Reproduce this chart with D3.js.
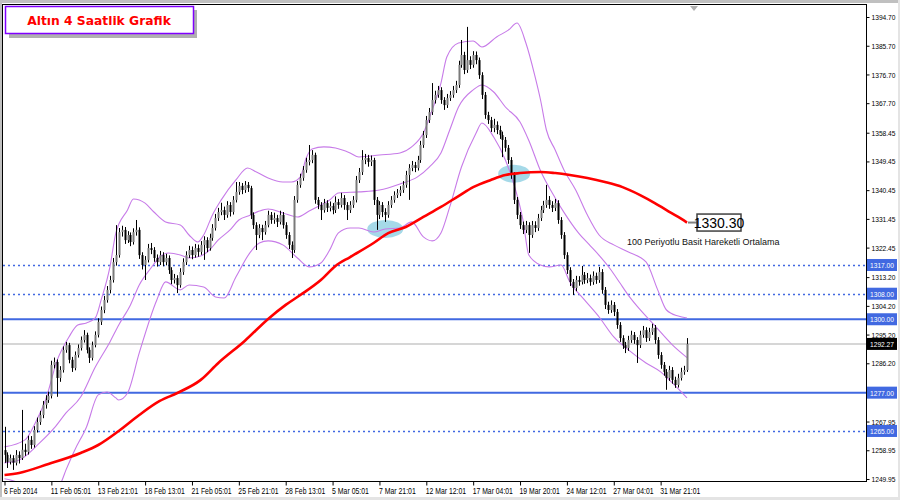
<!DOCTYPE html>
<html><head><meta charset="utf-8">
<script src="https://cdn.jsdelivr.net/npm/d3@7"></script>
<style>body{margin:0;background:#fff}svg{display:block}</style>
</head><body>
<svg id="c" width="900" height="500"></svg>
<script>
// ---------- DATA ----------
const opens=[1259.0,1257.5,1255.3,1256.5,1255.0,1257.5,1256.5,1259.1,1258.4,1262.2,
1260.6,1265.3,1267.8,1270.0,1273.2,1274.7,1276.0,1285.7,1286.6,1281.6,
1284.1,1290.4,1291.9,1287.3,1284.7,1288.8,1291.0,1293.5,1295.1,1290.4,
1287.9,1291.9,1295.1,1299.2,1302.9,1306.0,1309.2,1312.3,1317.9,1320.1,
1327.3,1328.0,1324.8,1326.4,1324.2,1327.3,1328.0,1320.1,1317.0,1318.6,
1322.3,1321.7,1319.2,1317.9,1320.1,1317.9,1319.2,1315.4,1312.3,1312.9,
1310.7,1314.8,1317.9,1320.1,1321.7,1320.1,1322.3,1321.1,1323.3,1324.8,
1322.3,1325.5,1328.6,1331.7,1333.6,1334.2,1332.7,1335.8,1333.6,1337.4,
1339.9,1341.8,1340.5,1342.1,1341.1,1332.7,1329.5,1326.4,1328.6,1327.3,
1329.5,1332.7,1331.1,1331.7,1330.5,1332.7,1329.5,1326.4,1323.3,1321.7,
1337.4,1342.1,1344.3,1346.8,1349.3,1349.9,1351.5,1337.4,1335.8,1334.2,
1336.4,1334.9,1335.5,1334.2,1336.7,1335.8,1338.0,1335.8,1334.2,1335.8,
1337.4,1343.6,1346.1,1349.9,1350.5,1349.3,1349.9,1337.4,1332.7,1335.8,
1333.6,1332.7,1335.8,1337.4,1338.9,1339.6,1340.5,1342.1,1345.2,1347.4,
1348.3,1347.4,1349.9,1354.6,1357.7,1362.4,1364.9,1368.7,1370.3,1371.8,
1368.7,1367.1,1369.3,1370.3,1371.8,1373.4,1379.7,1382.8,1378.1,1381.2,
1379.7,1382.8,1381.2,1376.5,1370.3,1364.0,1362.4,1359.9,1360.9,1359.3,
1357.7,1356.2,1353.7,1349.9,1345.2,1337.4,1332.7,1329.5,1328.0,1329.5,
1326.4,1329.5,1328.6,1331.7,1334.2,1335.8,1337.4,1335.8,1334.9,1336.4,
1331.1,1326.4,1320.1,1315.4,1311.7,1309.8,1312.3,1311.7,1313.9,1312.3,
1312.9,1311.7,1313.6,1312.3,1314.8,1309.2,1304.5,1302.9,1304.5,1302.3,
1298.2,1294.1,1291.9,1291.0,1293.5,1295.1,1293.5,1291.9,1295.1,1296.6,
1294.1,1296.0,1297.3,1293.5,1288.8,1285.7,1283.5,1281.6,1284.1,1281.0,
1279.4,1281.6,1283.5,1284.1];
const highs=[1266.3,1258.3,1257.6,1257.4,1259.0,1258.6,1271.6,1261.0,1263.5,1263.4,
1266.5,1269.2,1271.3,1274.4,1276.2,1277.3,1287.0,1288.0,1287.4,1285.3,
1291.5,1292.9,1292.6,1288.2,1289.9,1292.1,1294.6,1296.6,1295.8,1291.2,
1293.0,1296.2,1300.3,1304.0,1307.3,1310.4,1313.6,1319.2,1329.5,1328.6,
1329.3,1328.9,1327.6,1327.2,1328.5,1331.1,1328.8,1321.0,1319.8,1323.6,
1323.9,1322.6,1320.3,1321.4,1321.0,1320.5,1320.0,1316.3,1314.2,1313.8,
1316.0,1319.1,1321.3,1323.0,1322.8,1323.6,1323.4,1324.5,1326.0,1325.7,
1326.8,1329.8,1333.0,1334.9,1336.5,1335.3,1337.0,1336.7,1338.6,1343.0,
1343.0,1342.7,1343.3,1343.0,1341.8,1333.5,1330.4,1329.8,1329.6,1330.8,
1334.0,1333.6,1333.4,1332.7,1334.0,1333.6,1330.4,1327.3,1324.4,1338.6,
1343.3,1345.6,1348.0,1350.6,1354.6,1353.0,1352.2,1338.3,1336.7,1337.7,
1337.3,1336.9,1336.4,1338.5,1337.7,1339.6,1338.9,1336.7,1337.0,1338.6,
1344.9,1347.4,1353.0,1351.8,1351.5,1351.3,1350.6,1338.3,1337.0,1336.7,
1334.8,1337.0,1338.6,1340.1,1340.8,1341.7,1343.3,1346.5,1348.6,1349.6,
1349.3,1351.2,1355.9,1359.0,1363.7,1366.2,1374.0,1371.6,1373.1,1372.7,
1369.6,1370.6,1371.5,1373.1,1374.7,1381.0,1387.5,1383.8,1391.6,1382.4,
1384.0,1383.9,1382.0,1377.4,1371.2,1365.0,1363.4,1362.8,1362.0,1360.6,
1358.8,1357.1,1354.6,1350.8,1346.1,1338.3,1333.6,1330.6,1330.8,1330.4,
1330.8,1330.7,1333.0,1335.5,1337.1,1342.1,1338.6,1337.0,1337.7,1337.3,
1332.0,1327.3,1321.0,1316.3,1312.6,1313.6,1313.5,1316.7,1314.8,1314.5,
1314.0,1315.0,1314.6,1316.4,1315.7,1310.1,1305.5,1305.9,1305.4,1303.2,
1299.1,1295.0,1292.9,1294.8,1296.4,1296.0,1294.4,1296.4,1297.9,1297.5,
1297.3,1298.6,1298.2,1294.4,1289.7,1286.6,1284.4,1285.4,1285.0,1282.0,
1282.9,1284.8,1285.4,1294.1];
const lows=[1255.0,1253.4,1254.5,1252.8,1254.2,1254.8,1255.9,1257.2,1257.6,1259.4,
1259.8,1264.5,1266.9,1269.0,1272.0,1273.8,1275.2,1284.6,1275.7,1280.4,
1283.3,1289.5,1286.2,1283.5,1284.0,1288.0,1290.2,1292.7,1289.3,1286.3,
1287.1,1291.2,1294.3,1298.2,1301.9,1305.2,1308.1,1311.5,1316.8,1319.3,
1325.9,1323.6,1323.9,1322.9,1323.4,1326.2,1318.9,1315.6,1312.3,1317.8,
1320.4,1318.0,1316.5,1317.0,1316.6,1316.9,1314.2,1311.0,1311.2,1308.2,
1309.9,1313.9,1317.0,1319.2,1318.8,1319.3,1319.6,1320.2,1318.6,1321.0,
1321.5,1324.6,1327.8,1330.8,1332.6,1331.1,1331.8,1332.2,1332.8,1336.6,
1339.0,1339.2,1339.6,1339.9,1331.4,1328.3,1321.7,1325.4,1324.8,1326.5,
1328.8,1329.9,1329.9,1328.9,1329.7,1328.4,1325.2,1322.0,1319.2,1320.8,
1336.5,1341.2,1343.4,1345.9,1348.2,1348.9,1336.2,1334.5,1331.1,1333.4,
1333.6,1333.8,1332.9,1333.3,1334.6,1335.0,1334.3,1331.1,1333.3,1334.9,
1336.6,1342.7,1345.2,1348.6,1347.8,1348.0,1335.8,1328.0,1331.4,1332.0,
1330.5,1331.8,1334.9,1336.5,1338.0,1338.6,1339.6,1341.2,1337.4,1346.4,
1346.1,1346.6,1349.0,1353.7,1356.8,1361.5,1364.0,1367.6,1369.4,1367.5,
1365.6,1366.2,1368.4,1369.4,1370.9,1372.5,1378.8,1376.8,1377.2,1378.4,
1378.8,1379.9,1375.3,1369.0,1362.8,1361.2,1358.7,1358.6,1358.0,1356.5,
1350.8,1352.5,1348.7,1344.0,1336.1,1331.4,1328.3,1326.7,1327.0,1320.8,
1325.5,1327.3,1327.7,1330.8,1333.3,1334.9,1334.6,1333.6,1333.9,1329.9,
1325.2,1318.9,1314.2,1310.4,1307.6,1308.8,1310.5,1310.9,1311.1,1311.3,
1310.5,1310.8,1311.1,1311.4,1308.0,1303.2,1301.7,1302.0,1301.0,1297.0,
1292.9,1290.7,1289.4,1290.1,1292.6,1292.3,1286.3,1291.0,1294.2,1292.9,
1293.2,1295.1,1292.3,1287.6,1284.5,1282.3,1277.9,1280.7,1279.8,1278.5,
1278.6,1280.8,1282.6,1283.5];
const closes=[1257.5,1255.3,1256.5,1255.0,1257.5,1256.5,1259.1,1258.4,1262.2,1260.6,
1265.3,1267.8,1270.0,1273.2,1274.7,1276.0,1285.7,1286.6,1281.6,1284.1,
1290.4,1291.9,1287.3,1284.7,1288.8,1291.0,1293.5,1295.1,1290.4,1287.9,
1291.9,1295.1,1299.2,1302.9,1306.0,1309.2,1312.3,1317.9,1320.1,1327.3,
1328.0,1324.8,1326.4,1324.2,1327.3,1328.0,1320.1,1317.0,1318.6,1322.3,
1321.7,1319.2,1317.9,1320.1,1317.9,1319.2,1315.4,1312.3,1312.9,1310.7,
1314.8,1317.9,1320.1,1321.7,1320.1,1322.3,1321.1,1323.3,1324.8,1322.3,
1325.5,1328.6,1331.7,1333.6,1334.2,1332.7,1335.8,1333.6,1337.4,1339.9,
1341.8,1340.5,1342.1,1341.1,1332.7,1329.5,1326.4,1328.6,1327.3,1329.5,
1332.7,1331.1,1331.7,1330.5,1332.7,1329.5,1326.4,1323.3,1321.7,1337.4,
1342.1,1344.3,1346.8,1349.3,1349.9,1351.5,1337.4,1335.8,1334.2,1336.4,
1334.9,1335.5,1334.2,1336.7,1335.8,1338.0,1335.8,1334.2,1335.8,1337.4,
1343.6,1346.1,1349.9,1350.5,1349.3,1349.9,1337.4,1332.7,1335.8,1333.6,
1332.7,1335.8,1337.4,1338.9,1339.6,1340.5,1342.1,1345.2,1347.4,1348.3,
1347.4,1349.9,1354.6,1357.7,1362.4,1364.9,1368.7,1370.3,1371.8,1368.7,
1367.1,1369.3,1370.3,1371.8,1373.4,1379.7,1382.8,1378.1,1381.2,1379.7,
1382.8,1381.2,1376.5,1370.3,1364.0,1362.4,1359.9,1360.9,1359.3,1357.7,
1356.2,1353.7,1349.9,1345.2,1337.4,1332.7,1329.5,1328.0,1329.5,1326.4,
1329.5,1328.6,1331.7,1334.2,1335.8,1337.4,1335.8,1334.9,1336.4,1331.1,
1326.4,1320.1,1315.4,1311.7,1309.8,1312.3,1311.7,1313.9,1312.3,1312.9,
1311.7,1313.6,1312.3,1314.8,1309.2,1304.5,1302.9,1304.5,1302.3,1298.2,
1294.1,1291.9,1291.0,1293.5,1295.1,1293.5,1291.9,1295.1,1296.6,1294.1,
1296.0,1297.3,1293.5,1288.8,1285.7,1283.5,1281.6,1284.1,1281.0,1279.4,
1281.6,1283.5,1284.1,1292.27];

// 100-period SMA, sampled at bar indices
const maIdx=[0,5,15,26,32,39,46,53,59,67,73,82,90,96,101,108,113,118,126,131,137,143,149,155,160,166,171,176,183,188,193,199,205,211,217,222,226,230,233];
const maVal=[1251.2,1251.85,1254.65,1258.1,1260.6,1265.0,1270.0,1274.4,1276.9,1281.0,1286.3,1293.2,1300.1,1304.5,1307.6,1312.3,1316.7,1319.5,1323.9,1327.0,1328.9,1332.05,1335.2,1338.6,1341.4,1343.65,1345.2,1345.8,1346.15,1345.8,1345.2,1344.25,1343.0,1341.4,1338.9,1336.4,1334.2,1332.05,1330.3];

// Bollinger bands, sampled at bar indices
const bbUpperIdx=[0,7,11,14,18,22,25,28,31,33,36,38,42,44,48,51,55,60,63,66,68,71,74,79,83,86,90,95,98,101,103,105,109,113,118,121,128,135,139,143,146,149,151,155,160,163,168,172,175,178,181,183,185,188,191,195,199,203,208,213,219,223,226,230,233];
const bbUpperVal=[1260.0,1262.2,1268.45,1274.7,1287.2,1294.45,1298.2,1298.85,1300.4,1306.05,1316.4,1327.0,1334.25,1337.7,1336.4,1333.6,1330.5,1329.55,1326.4,1324.2,1326.4,1332.7,1337.4,1343.65,1347.4,1346.15,1344.25,1343.0,1343.0,1344.6,1350.5,1353.35,1354.0,1353.65,1352.1,1350.85,1351.45,1352.1,1354.0,1358.35,1365.55,1374.0,1382.15,1386.55,1387.2,1385.3,1388.45,1390.6,1392.8,1386.55,1376.5,1368.7,1359.3,1353.05,1346.8,1340.5,1332.65,1326.4,1323.3,1321.1,1317.95,1309.2,1302.9,1301.0,1300.4];
const bbMidIdx=[0,5,12,17,21,26,31,36,39,43,46,50,53,56,60,63,67,70,73,77,80,84,87,90,95,100,104,108,111,114,121,128,135,141,145,149,152,155,160,163,167,171,176,179,183,188,191,196,200,203,207,210,213,217,222,228,233];
const bbMidVal=[1255.0,1255.9,1261.25,1265.95,1270.65,1275.65,1285.05,1292.9,1298.2,1304.5,1310.75,1316.05,1319.5,1320.75,1320.15,1319.2,1319.85,1321.7,1324.85,1328.0,1331.1,1332.65,1333.9,1334.55,1333.3,1332.05,1333.9,1335.8,1337.35,1339.55,1339.9,1340.5,1342.4,1344.6,1347.7,1352.1,1359.3,1366.5,1371.85,1373.4,1371.2,1366.5,1361.8,1356.0,1346.5,1338.0,1333.5,1327.0,1323.0,1320.0,1315.5,1311.5,1307.5,1303.0,1298.0,1292.0,1288.0];
const bbLowerIdx=[0,5,10,15,19,21,24,28,32,35,38,39,42,46,52,55,60,63,68,72,75,79,84,87,90,95,100,104,108,111,114,118,121,126,130,135,139,143,146,149,152,156,161,163,167,171,174,177,179,183,186,190,193,198,203,208,213,219,224,228,233];
const bbLowerVal=[1250.0,1248.7,1245.6,1246.2,1248.4,1252.8,1259.05,1266.25,1276.3,1277.2,1275.35,1274.7,1276.9,1289.45,1306.05,1311.7,1309.2,1310.75,1310.1,1307.0,1306.65,1313.25,1321.1,1323.9,1324.55,1323.3,1319.2,1316.4,1317.65,1321.7,1327.05,1328.6,1328.6,1327.35,1328.3,1328.6,1330.5,1325.8,1324.55,1327.05,1335.2,1347.7,1358.35,1361.5,1357.1,1349.9,1342.05,1331.1,1320.15,1317.0,1316.4,1317.0,1311.7,1306.05,1300.7,1294.45,1290.4,1286.3,1283.5,1280.05,1275.35];

const xTickIdx=[0,16,32,48,64,80,96,112,128,144,160,176,192,208,224];
const xTickLabels=["6 Feb 2014","11 Feb 05:01","13 Feb 21:01","18 Feb 13:01","21 Feb 05:01","25 Feb 21:01","28 Feb 13:01","5 Mar 05:01","7 Mar 21:01","12 Mar 12:01","17 Mar 04:01","19 Mar 20:01","24 Mar 12:01","27 Mar 04:01","31 Mar 21:01"];
const yTicks=[1394.70,1385.70,1376.70,1367.70,1358.45,1349.45,1340.45,1331.45,1322.45,1313.20,1304.20,1295.20,1286.20,1267.95,1258.95,1249.95];
const solidLevels=[1300.00,1277.00];
const dottedLevels=[1317.00,1308.00,1265.00];
const lastPrice=1292.27;
const maLabelValue=1330.30;
const maCaption="100 Periyotlu Basit Hareketli Ortalama";
const title="Altın 4 Saatlik Grafik";
const markIdx=[130,174];   // highlighted crossing points (bar index)
const markVal=[1328.3,1345.6];

// ---------- LAYOUT ----------
const P={l:3,t:5,r:866,b:481};
const x=d3.scaleLinear().domain([0,233]).range([4.5,687]);
const y=d3.scaleLinear().domain([1249.32,1398.15]).range([481,6]);
const svg=d3.select('#c');
const BLUE='#4169e1', PURPLE='#c77be8';
const FONT='"Liberation Sans", Arial, sans-serif';

svg.append('rect').attr('width',900).attr('height',500).attr('fill','#fff');
// window frame
svg.append('rect').attr('x',0).attr('y',0).attr('width',900).attr('height',3).attr('fill','#c0c0c0');
svg.append('rect').attr('x',0).attr('y',0).attr('width',2).attr('height',500).attr('fill','#c0c0c0');
svg.append('rect').attr('x',898).attr('y',0).attr('width',2).attr('height',500).attr('fill','#e4e4e4');
svg.append('rect').attr('x',0).attr('y',497).attr('width',900).attr('height',3).attr('fill','#e4e4e4');

svg.append('clipPath').attr('id','clip').append('rect')
  .attr('x',P.l).attr('y',P.t).attr('width',P.r-P.l).attr('height',P.b-P.t);
const g=svg.append('g').attr('clip-path','url(#clip)');

// price levels
g.selectAll('.sl').data(solidLevels).join('line')
  .attr('x1',P.l).attr('x2',P.r).attr('y1',d=>y(d)).attr('y2',d=>y(d))
  .attr('stroke',BLUE).attr('stroke-width',2);
g.selectAll('.dl').data(dottedLevels).join('line')
  .attr('x1',P.l).attr('x2',P.r).attr('y1',d=>Math.round(y(d))+0.5).attr('y2',d=>Math.round(y(d))+0.5)
  .attr('stroke',BLUE).attr('stroke-width',1.5).attr('stroke-dasharray','2,3');
g.append('line').attr('x1',P.l).attr('x2',P.r).attr('y1',y(lastPrice)).attr('y2',y(lastPrice))
  .attr('stroke','#c8c8c8').attr('stroke-width',1.5);

// highlight ellipses
g.selectAll('.el').data(markIdx).join('ellipse')
  .attr('cx',(d,i)=>x(d)).attr('cy',(d,i)=>y(markVal[i]))
  .attr('rx',(d,i)=>i===0?18:16).attr('ry',9)
  .attr('fill','#8fcfe2').attr('opacity',0.8);

// bands
const lineGen=d3.line().x(d=>x(d[0])).y(d=>y(d[1])).curve(d3.curveMonotoneX);
[[bbUpperIdx,bbUpperVal],[bbMidIdx,bbMidVal],[bbLowerIdx,bbLowerVal]].forEach(([ix,v])=>{
  g.append('path').datum(ix.map((d,i)=>[d,v[i]])).attr('d',lineGen)
   .attr('fill','none').attr('stroke',PURPLE).attr('stroke-width',1.1);
});

// candles
const idx=d3.range(closes.length);
g.selectAll('.wick').data(idx).join('line')
  .attr('x1',i=>Math.round(x(i))+0.5).attr('x2',i=>Math.round(x(i))+0.5)
  .attr('y1',i=>y(highs[i])).attr('y2',i=>y(lows[i]))
  .attr('stroke','#000').attr('stroke-width',1);
g.selectAll('.body').data(idx).join('rect')
  .attr('x',i=>Math.round(x(i))-0.5).attr('width',2)
  .attr('y',i=>y(Math.max(opens[i],closes[i])))
  .attr('height',i=>Math.max(1,Math.abs(y(opens[i])-y(closes[i]))))
  .attr('fill',i=>closes[i]>=opens[i]?'#7a7a7a':'#000');

// MA line
g.append('path').datum(maIdx.map((d,i)=>[d,maVal[i]])).attr('d',lineGen)
  .attr('fill','none').attr('stroke','#ff0000').attr('stroke-width',2.6);

// MA label
const yl=y(maLabelValue);
svg.append('line').attr('x1',x(233)+1).attr('x2',x(233)+10).attr('y1',yl).attr('y2',yl)
  .attr('stroke','#808080').attr('stroke-width',2);
svg.append('rect').attr('x',x(233)+10).attr('y',yl-8.5).attr('width',44).attr('height',17)
  .attr('fill','#fff').attr('stroke','#404040').attr('stroke-width',1.5);
svg.append('text').attr('x',x(233)+32).attr('y',yl+5).attr('text-anchor','middle')
  .attr('font-family',FONT).attr('font-size',14).attr('fill','#000').text(maLabelValue.toFixed(2));
svg.append('text').attr('x',627).attr('y',245).attr('font-family',FONT).attr('font-size',9)
  .attr('fill','#111').text(maCaption);

// plot frame
svg.append('rect').attr('x',P.l-0.5).attr('y',P.t-0.5).attr('width',P.r-P.l+1).attr('height',P.b-P.t+1)
  .attr('fill','none').attr('stroke','#000').attr('stroke-width',1);
// shift marker
svg.append('path').attr('d',`M${x(233)+3},${P.t+1} l8,0 l-4,5 z`).attr('fill','#b0b0b0');

// y axis
const yAxis=svg.append('g').attr('transform',`translate(${P.r+0.5},0)`)
  .call(d3.axisRight(y).tickValues(yTicks).tickFormat(d3.format('.2f')).tickSize(3).tickPadding(2));
yAxis.select('.domain').remove();
yAxis.selectAll('text').attr('font-family',FONT).attr('font-size',8).attr('fill','#000');
yAxis.selectAll('line').attr('stroke','#000');

// level boxes on the axis
const boxes=solidLevels.concat(dottedLevels).map(v=>({v,c:BLUE})).concat([{v:lastPrice,c:'#000'}]);
const bg=svg.selectAll('.box').data(boxes).join('g').attr('class','box').attr('transform',d=>`translate(${P.r+1},${y(d.v)})`);
bg.append('rect').attr('x',0).attr('y',-6).attr('width',30).attr('height',12).attr('fill',d=>d.c);
bg.append('text').attr('x',3).attr('y',3).attr('font-family',FONT).attr('font-size',8)
  .attr('fill','#fff').text(d=>d.v.toFixed(2));

// x axis
const xAxis=svg.append('g').attr('transform',`translate(0,${P.b+0.5})`)
  .call(d3.axisBottom(x).tickValues(xTickIdx).tickFormat((d,i)=>xTickLabels[i]).tickSize(4).tickPadding(2));
xAxis.select('.domain').remove();
xAxis.selectAll('text').attr('font-family',FONT).attr('font-size',8.5).attr('fill','#000')
  .attr('text-anchor','start').attr('dx',-1);
xAxis.selectAll('line').attr('stroke','#000');

// narrow price labels like the original
svg.selectAll('text').each(function(){
  const t=this.textContent;
  if(/^\d{4}\.\d{2}$/.test(t) && t!==maLabelValue.toFixed(2)){
    const w=this.getComputedTextLength();
    if(w>24) d3.select(this).attr('textLength',24).attr('lengthAdjust','spacingAndGlyphs');
  }
});
xAxis.selectAll('text').each(function(){
  const w=this.getComputedTextLength(); const target=this.textContent.length*3.35;
  if(w>target) d3.select(this).attr('textLength',target).attr('lengthAdjust','spacingAndGlyphs');
});

// title box
const tb=svg.append('g');
tb.append('rect').attr('x',9).attr('y',10).attr('width',188).attr('height',28).attr('fill','#707070').attr('opacity',0.55);
tb.append('rect').attr('x',5.5).attr('y',6.5).attr('width',188).attr('height',27).attr('fill','#fff')
  .attr('stroke','#8000ff').attr('stroke-width',1.5);
tb.append('text').attr('x',99).attr('y',24.5).attr('text-anchor','middle')
  .attr('font-family','"DejaVu Sans", Verdana, sans-serif').attr('font-weight','bold')
  .attr('font-size',12.3).attr('fill','#ff0000').text(title);
</script>
</body></html>
